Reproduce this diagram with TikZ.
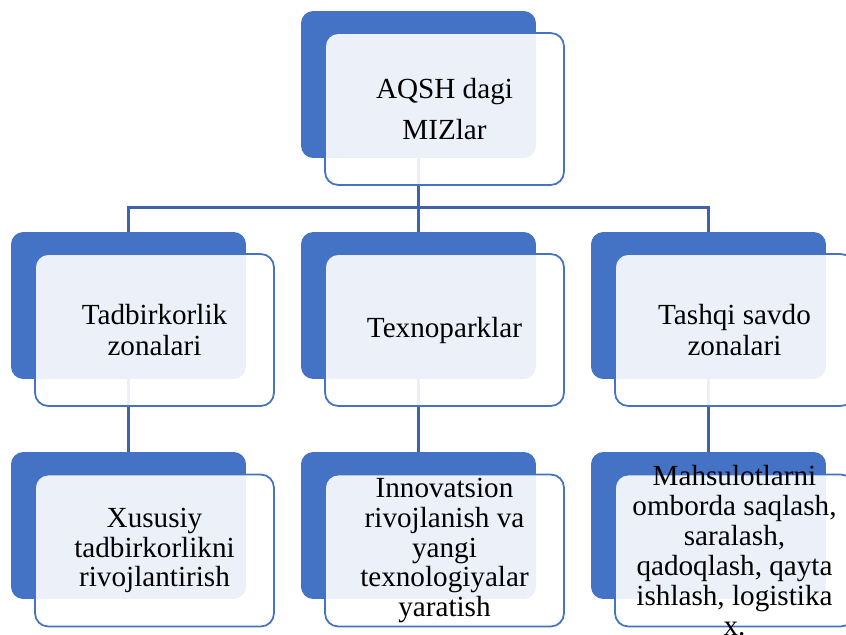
\documentclass[tikz,border=0pt]{standalone}
\usepackage{fontspec}
\setmainfont{Liberation Serif}

\definecolor{mizblue}{HTML}{4472C4}
\definecolor{mizline}{HTML}{3E63A8}

\tikzset{
  backbox/.style={fill=mizblue, rounded corners=7pt, minimum width=4.7cm, minimum height=2.94cm, inner sep=0pt},
  frontbox/.style={draw=mizblue, line width=1pt, fill=white, fill opacity=0.9, rounded corners=7.5pt, minimum width=4.78cm, minimum height=3.04cm, inner sep=0pt},
  boxtext/.style={align=center, inner sep=0pt, font=\fontsize{16.6}{17}\selectfont},
  link/.style={mizline, line width=1.2pt}
}

\begin{document}
\begin{tikzpicture}[x=0.02cm, y=-0.02cm]
\useasboundingbox (0,0) rectangle (846,635);
\clip (0,0) rectangle (846,635);

% Dark back cards
\node[backbox] (b0) at (418.5,84.5) {};
\node[backbox] (b1) at (128.5,305.5) {};
\node[backbox] (b2) at (418.5,305.5) {};
\node[backbox] (b3) at (708.5,305.5) {};
\node[backbox] (b4) at (128.5,525.5) {};
\node[backbox] (b5) at (418.5,525.5) {};
\node[backbox] (b6) at (708.5,525.5) {};

% Connectors (behind the light cards)
\coordinate (busL) at (128.5,207.5);
\coordinate (busR) at (708.5,207.5);
\draw[link] (b0.south) -- (b2.north);
\draw[link] (b1.north) -- (busL) -- (busR) -- (b3.north);
\draw[link] (b1.south) -- (b4.north);
\draw[link] (b2.south) -- (b5.north);
\draw[link] (b3.south) -- (b6.north);

% Light front cards
\node[frontbox] (f0) at (444.5,109) {};
\node[frontbox] (f1) at (154.5,330) {};
\node[frontbox] (f2) at (444.5,330) {};
\node[frontbox] (f3) at (734.5,330) {};
\node[frontbox] (f4) at (154.5,550.5) {};
\node[frontbox] (f5) at (444.5,550.5) {};
\node[frontbox] (f6) at (734.5,550.5) {};

% Texts
\node[boxtext, font=\fontsize{16.6}{23}\selectfont] (t0) at (f0) {AQSH dagi\\MIZlar};
\node[boxtext, font=\fontsize{16.6}{18}\selectfont] (t1) at (f1) {Tadbirkorlik\\zonalari};
\node[boxtext] (t2) at (f2) {Texnoparklar};
\node[boxtext, font=\fontsize{16.6}{18}\selectfont] (t3) at (f3) {Tashqi savdo\\zonalari};
\node[boxtext] (t4) at (f4) {Xususiy\\tadbirkorlikni\\rivojlantirish};
\node[boxtext] (t5) at (f5) {Innovatsion\\rivojlanish va\\yangi\\texnologiyalar\\yaratish};
\node[boxtext] (t6) at (f6) {Mahsulotlarni\\omborda saqlash,\\saralash,\\qadoqlash, qayta\\ishlash, logistika\\x.};

\end{tikzpicture}
\end{document}
